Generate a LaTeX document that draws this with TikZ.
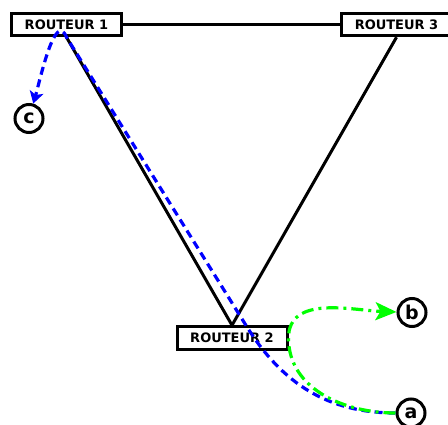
\documentclass[tikz,border=0pt]{standalone}
\usepackage{fontspec}
\newfontfamily\djv{DejaVu Sans}
\usetikzlibrary{arrows.meta}
\tikzset{
  router/.style={draw=black, fill=white, line width=3pt, minimum width=110pt, minimum height=22.5pt, inner sep=0pt, font=\djv\bfseries\fontsize{13}{15}\selectfont},
  host/.style={draw=black, fill=white, circle, line width=3pt, minimum size=28pt, inner sep=0pt, font=\djv\bfseries\fontsize{19}{21}\selectfont},
  link/.style={draw=black, line width=3pt},
  bluepath/.style={draw=blue, line width=3.2pt, dash pattern=on 8pt off 5pt},
  greenpath/.style={draw=green, line width=3.2pt, dash pattern=on 12pt off 5pt on 3pt off 5pt}
}
\begin{document}
\begin{tikzpicture}[x=1pt,y=1pt]
\useasboundingbox (0,0) rectangle (448,-425);
\node[router] (R1) at (66.5,-24.5) {ROUTEUR 1};
\node[router] (R3) at (396.5,-24.5) {ROUTEUR 3};
\node[router] (R2) at (232,-338) {ROUTEUR 2};
\node[host] (c) at (29,-118.5) {c};
\node[host] (b) at (412,-312.5) {b};
\node[host] (a) at (411,-413) {a};
\draw[link] (R1) -- (R3);
\draw[link] (R1.south) -- (R2.north);
\draw[link] (R3.south) -- (R2.north);
\node[router] at (R1) {ROUTEUR 1};
\node[router] at (R3) {ROUTEUR 3};
\node[router] at (R2) {ROUTEUR 2};
\coordinate (j) at (247,-327);
\draw[bluepath, -{Stealth[length=12pt,width=14pt,inset=3pt]}]
  (a.west) to[out=180,in=-58] (j) -- (R1.south)
  .. controls +(112:30) and +(74:40) .. (c);
\draw[greenpath, -{Stealth[length=21pt,width=18pt,inset=5pt]}]
  (a.west) to[out=180,in=-90] (R2.east) to[out=90,in=178] (b);
\end{tikzpicture}
\end{document}
